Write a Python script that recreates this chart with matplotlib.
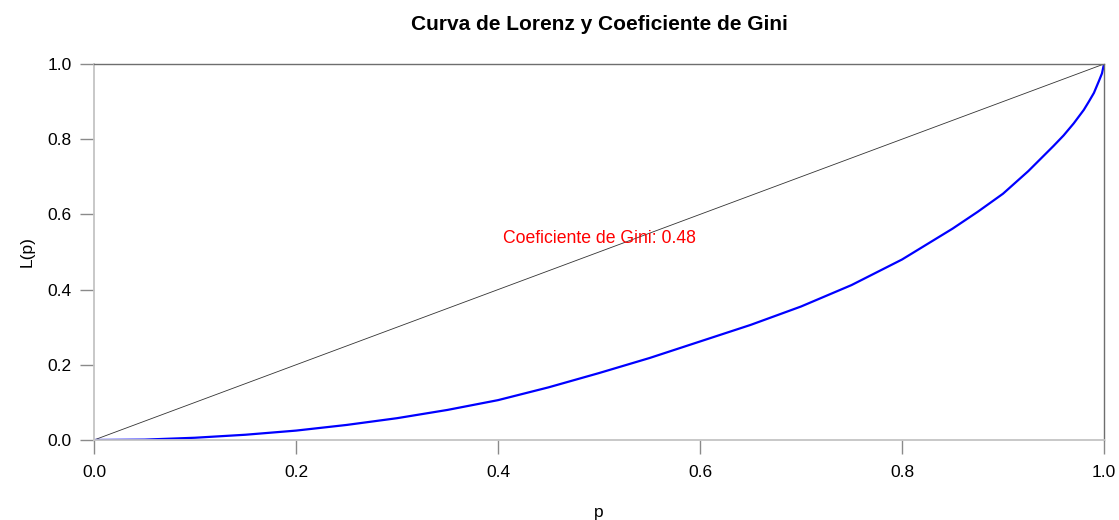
import matplotlib
matplotlib.use("Agg")
import matplotlib.pyplot as plt

# Lorenz curve points
p_vals = [0.0, 0.05, 0.10, 0.15, 0.20, 0.25, 0.30, 0.35, 0.40, 0.45, 0.50,
          0.55, 0.60, 0.65, 0.70, 0.75, 0.80, 0.85, 0.875, 0.90, 0.925, 0.95,
          0.96, 0.97, 0.98, 0.985, 0.99, 0.995, 0.998, 1.0]
L_vals = [0.0, 0.001, 0.006, 0.014, 0.025, 0.040, 0.058, 0.080, 0.106, 0.140,
          0.178, 0.218, 0.262, 0.306, 0.355, 0.412, 0.480, 0.562, 0.607, 0.655,
          0.715, 0.782, 0.810, 0.842, 0.878, 0.900, 0.923, 0.955, 0.975, 1.0]
equality = [0.0, 1.0]
gini = 0.48
ticks = [0.0, 0.2, 0.4, 0.6, 0.8, 1.0]

plt.rcParams['font.family'] = ['Liberation Sans', 'DejaVu Sans']

fig = plt.figure(figsize=(11.19, 5.2), dpi=100)
ax = fig.add_axes([94/1119, 1 - 440/520, 1010/1119, 376/520])

ax.plot(equality, equality, color='#333333', lw=0.6)
ax.plot(p_vals, L_vals, color='#0000ff', lw=1.6, solid_joinstyle='round')
ax.text(0.5, 0.537, f"Coeficiente de Gini: {gini:.2f}", color='#ff0000',
        fontsize=12.7, ha='center', va='center')

ax.set_xlim(0, 1)
ax.set_ylim(0, 1)
ax.set_xticks(ticks, [f"{t:.1f}" for t in ticks])
ax.set_yticks(ticks, [f"{t:.1f}" for t in ticks])
ax.tick_params(length=10, width=1, color='#8a8a8a', labelsize=12.5, pad=6)
ax.tick_params(axis='x', pad=8)

for s in ['left', 'bottom']:
    ax.spines[s].set_color('#c4c4c4')
    ax.spines[s].set_linewidth(1.3)
for s in ['top', 'right']:
    ax.spines[s].set_color('#6e6e6e')
    ax.spines[s].set_linewidth(1.0)

fig.text(599/1119, 1 - 24/520, "Curva de Lorenz y Coeficiente de Gini",
         ha='center', va='center', fontsize=15, fontweight='bold')
fig.text(599/1119, 1 - 513/520, "p", ha='center', va='center', fontsize=12.5)
fig.text(27/1119, 1 - 252/520, "L(p)", ha='center', va='center',
         rotation=90, fontsize=12.5)

fig.savefig("out.png", dpi=100, facecolor='white')
